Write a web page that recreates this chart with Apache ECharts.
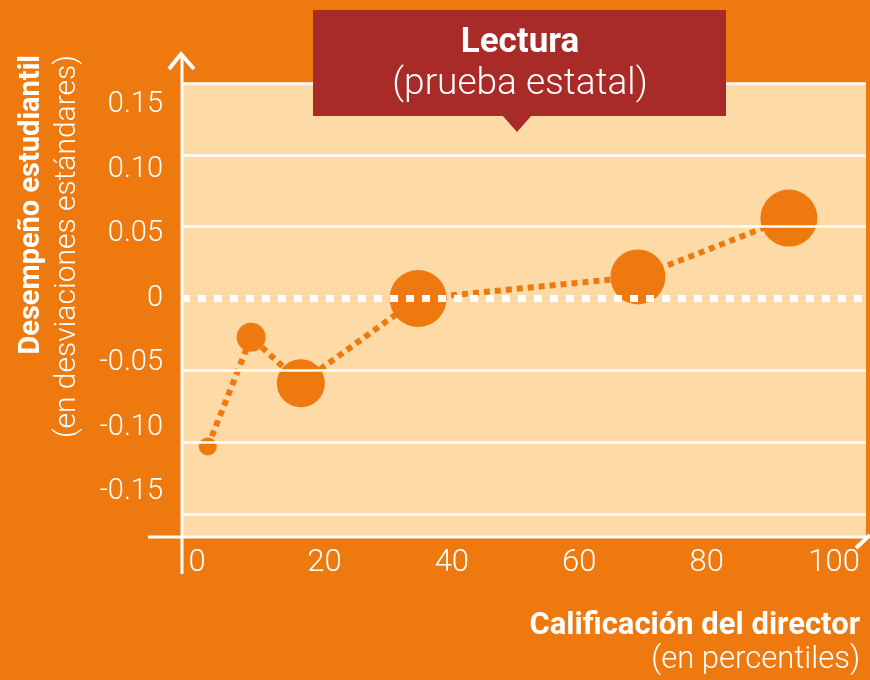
<!DOCTYPE html>
<html>
<head>
<meta charset="utf-8">
<script src="https://cdn.jsdelivr.net/npm/echarts@6/dist/echarts.min.js"></script>
<style>
html,body{margin:0;padding:0;background:#ee790f;}
#main{width:870px;height:680px;}
</style>
</head>
<body>
<div id="main"></div>
<script>
// director rating percentile vs student performance (std dev)
var percentiles = [1.7, 8.5, 16.3, 34.7, 69.2, 92.9];
var scores = [-0.103, -0.027, -0.059, 0, 0.015, 0.056];
var bubbleSizes = [18, 29, 48, 57, 55, 57];
var xTicks = [0, 20, 40, 60, 80, 100];
var yTicks = [-0.15, -0.10, -0.05, 0, 0.05, 0.10, 0.15];

var orange = '#ee790f';
var peach = '#fedaa6';
var font = 'Roboto, "Liberation Sans", sans-serif';

var chart = echarts.init(document.getElementById('main'));

var points = percentiles.map(function (x, i) {
	return [x, scores[i], bubbleSizes[i]];
});

var gridLines = yTicks.map(function (v) {
	if (v === 0) {
		return {yAxis: v, lineStyle: {color: '#fff', width: 7, type: [8, 8]}};
	}
	return {yAxis: v, lineStyle: {color: '#fff', width: 2.5, type: 'solid'}};
});

chart.setOption({
	backgroundColor: orange,
	animation: false,
	grid: [
		{left: 182, right: 4, top: 83, bottom: 143, show: true, backgroundColor: peach, borderWidth: 0},
		// only used to place the y tick labels
		{left: 182, right: 4, top: 105, bottom: 188, show: false}
	],
	xAxis: [
		{
			gridIndex: 0,
			type: 'value',
			min: -2.35,
			max: 105,
			axisLine: {show: false},
			axisTick: {show: false},
			splitLine: {show: false},
			axisLabel: {
				customValues: xTicks,
				color: '#fff',
				fontSize: 31,
				fontFamily: font,
				fontWeight: 300,
				margin: 11
			}
		},
		{gridIndex: 1, type: 'value', show: false, min: 0, max: 100}
	],
	yAxis: [
		{
			gridIndex: 0,
			type: 'value',
			min: -0.166,
			max: 0.15,
			axisLine: {show: false},
			axisTick: {show: false},
			axisLabel: {show: false},
			splitLine: {show: false}
		},
		{
			gridIndex: 1,
			type: 'value',
			min: yTicks[0],
			max: yTicks[yTicks.length - 1],
			interval: 0.05,
			axisLine: {show: false},
			axisTick: {show: false},
			splitLine: {show: false},
			axisLabel: {
				color: '#fff',
				fontSize: 29,
				fontFamily: font,
				fontWeight: 300,
				margin: 19,
				formatter: function (v) {
					return Math.abs(v) < 1e-9 ? '0' : v.toFixed(2);
				}
			}
		}
	],
	series: [
		{
			type: 'line',
			xAxisIndex: 0,
			yAxisIndex: 0,
			z: 1,
			data: [],
			markLine: {
				silent: true,
				symbol: 'none',
				label: {show: false},
				data: gridLines
			}
		},
		{
			type: 'line',
			xAxisIndex: 0,
			yAxisIndex: 0,
			z: 3,
			data: points,
			symbol: 'circle',
			symbolSize: function (d) { return d[2]; },
			itemStyle: {color: orange},
			lineStyle: {color: orange, width: 6, type: [6, 5]}
		}
	],
	graphic: [
		// axes drawn by hand style
		{type: 'line', shape: {x1: 182, y1: 574, x2: 182, y2: 56}, style: {stroke: '#fff', lineWidth: 3}, z: 50},
		{type: 'polyline', shape: {points: [[169, 69], [181, 54], [194, 69]]}, style: {stroke: '#fff', lineWidth: 4, fill: null}, z: 50},
		{type: 'line', shape: {x1: 148, y1: 537, x2: 866, y2: 537}, style: {stroke: '#fff', lineWidth: 3}, z: 50},
		{type: 'line', shape: {x1: 856, y1: 548, x2: 870, y2: 535}, style: {stroke: '#fff', lineWidth: 4}, z: 50},
		// title box
		{type: 'rect', shape: {x: 313, y: 10, width: 413, height: 106}, style: {fill: '#a82b28'}, z: 60},
		{type: 'polygon', shape: {points: [[502, 115], [532, 115], [517, 132]]}, style: {fill: '#a82b28'}, z: 60},
		{type: 'text', x: 520, y: 43, z: 61, style: {text: 'Lectura', fill: '#fff', font: 'bold 35px ' + font, align: 'center', verticalAlign: 'middle'}},
		{type: 'text', x: 520, y: 85, z: 61, style: {text: '(prueba estatal)', fill: '#fff', font: '300 37px ' + font, align: 'center', verticalAlign: 'middle'}},
		// y axis name
		{type: 'text', x: 32, y: 55, rotation: Math.PI / 2, z: 61, style: {text: 'Desempeño estudiantil', fill: '#fff', font: 'bold 29px ' + font, align: 'right', verticalAlign: 'middle'}},
		{type: 'text', x: 67, y: 55, rotation: Math.PI / 2, z: 61, style: {text: '(en desviaciones estándares)', fill: '#fff', font: '300 30px ' + font, align: 'right', verticalAlign: 'middle'}},
		// x axis name
		{type: 'text', x: 860, y: 626, z: 61, style: {text: 'Calificación del director', fill: '#fff', font: 'bold 31px ' + font, align: 'right', verticalAlign: 'middle'}},
		{type: 'text', x: 860, y: 660, z: 61, style: {text: '(en percentiles)', fill: '#fff', font: '300 31px ' + font, align: 'right', verticalAlign: 'middle'}}
	]
});
</script>
</body>
</html>
